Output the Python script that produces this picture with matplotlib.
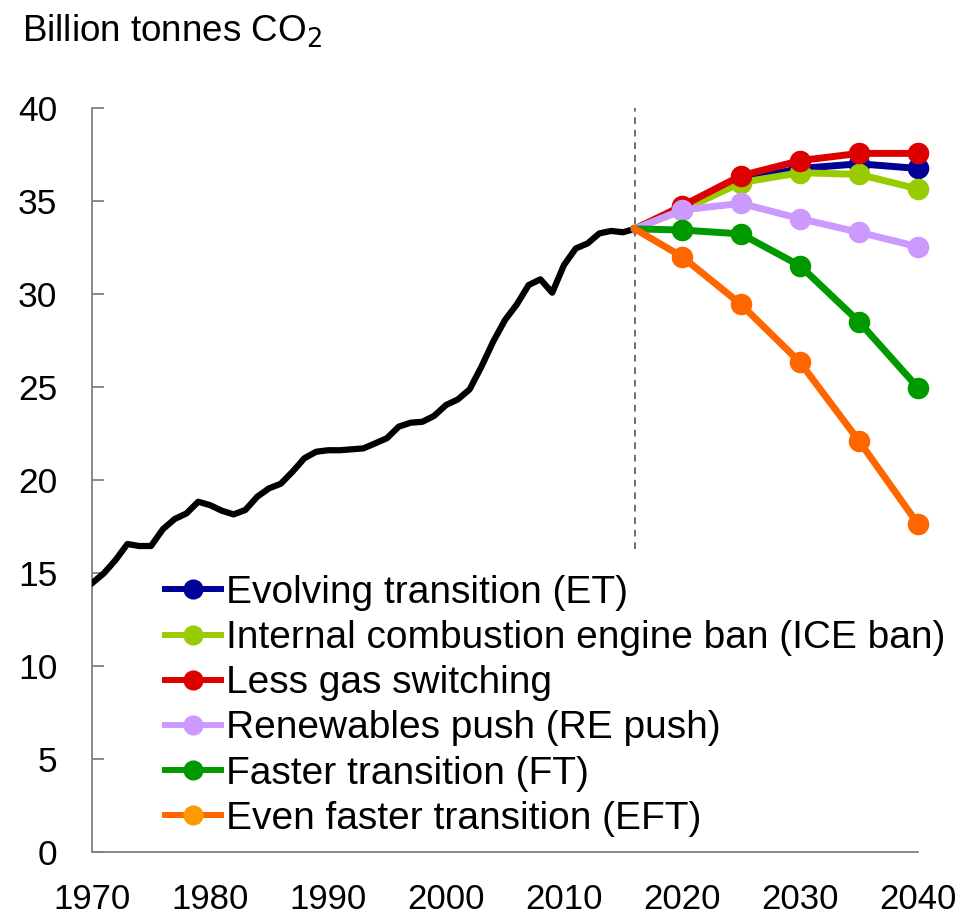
import numpy as np
import matplotlib.pyplot as plt
from matplotlib.lines import Line2D

plt.rcParams['font.family'] = ['Liberation Sans', 'DejaVu Sans']

# historical emissions, billion tonnes CO2
hist_years = list(range(1970, 2017))
hist_vals = [14.45, 14.98, 15.7, 16.56, 16.45, 16.45, 17.35, 17.9, 18.2, 18.83,
             18.65, 18.35, 18.15, 18.39, 19.1, 19.55, 19.8, 20.45, 21.17, 21.52,
             21.6, 21.6, 21.65, 21.7, 21.97, 22.25, 22.87, 23.08, 23.13, 23.45,
             24.03, 24.33, 24.87, 26.09, 27.44, 28.6, 29.44, 30.48, 30.79, 30.07,
             31.56, 32.45, 32.72, 33.26, 33.39, 33.32, 33.5]

# scenarios: first point is 2016 (no marker), then 2020..2040
scen_years = [2016, 2020, 2025, 2030, 2035, 2040]
et = [33.5, 34.6, 36.1, 36.75, 37.0, 36.75]
ice_ban = [33.5, 34.5, 35.99, 36.52, 36.43, 35.65]
less_gas = [33.5, 34.73, 36.36, 37.17, 37.56, 37.56]
re_push = [33.5, 34.52, 34.87, 34.05, 33.32, 32.54]
ft = [33.5, 33.44, 33.23, 31.52, 28.51, 24.96]
eft = [33.5, 32.01, 29.44, 26.33, 22.1, 17.63]

labels = ['Evolving transition (ET)',
          'Internal combustion engine ban (ICE ban)',
          'Less gas switching',
          'Renewables push (RE push)',
          'Faster transition (FT)',
          'Even faster transition (EFT)']
series = [et, ice_ban, less_gas, re_push, ft, eft]
colors = ['#000099', '#99CC00', '#DD0000', '#CC99FF', '#009900', '#FF6600']
legend_marker = ['#000099', '#99CC00', '#DD0000', '#CC99FF', '#009900', '#FF9900']

fig = plt.figure(figsize=(9.8, 9.15), dpi=100)
ax = fig.add_axes([92/980, 1 - 852/915, (918-92)/980, (852-108)/915])

ax.plot(hist_years, hist_vals, color='black', lw=4.5, zorder=3)
ax.plot([2016, 2016], [16.3, 40], color='#555555', lw=1.2, ls=(0, (4, 3.5)), zorder=2)

for i, (vals, c) in enumerate(zip(series, colors)):
    ax.plot(scen_years, vals, color=c, lw=5, marker='o', ms=14.5, mfc=c, mec=c,
            markevery=list(range(1, len(scen_years))), zorder=4 + i, clip_on=False)

ax.set_xlim(1970, 2040)
ax.set_ylim(0, 40)
ax.set_yticks(range(0, 41, 5))
ax.set_xticks(range(1970, 2041, 10))
for s in ['top', 'right']:
    ax.spines[s].set_visible(False)
for s in ['left', 'bottom']:
    ax.spines[s].set_color('#808080')
    ax.spines[s].set_linewidth(1.3)
ax.tick_params(axis='y', direction='in', length=8.5, width=1.3, color='#808080',
               labelsize=25.5, pad=25)
ax.tick_params(axis='x', length=0, labelsize=25, pad=22)

handles = [Line2D([0], [0], color=c, lw=4.3, marker='o', ms=13.5, mfc=m, mec=m)
           for c, m in zip(colors, legend_marker)]
fig.legend(handles, labels, loc='upper left', bbox_to_anchor=(165/980, 1 - 575/915),
           frameon=False, fontsize=28, handlelength=1.45, handletextpad=0.12,
           labelspacing=0.235, borderpad=0, borderaxespad=0)

fig.text(22/980, 1 - 42/915, 'Billion tonnes CO$_2$', fontsize=26.5)

fig.savefig('out.png', dpi=100)
